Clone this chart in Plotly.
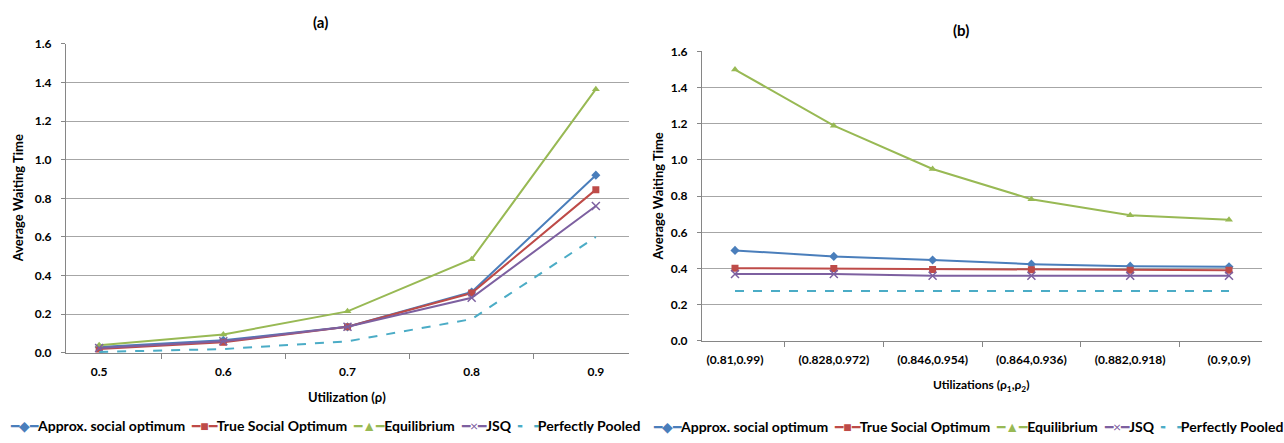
import plotly.graph_objects as go

# ---- data ----
util_a = ["0.5", "0.6", "0.7", "0.8", "0.9"]
approx_a = [0.03, 0.065, 0.135, 0.315, 0.92]
true_a = [0.02, 0.055, 0.135, 0.31, 0.845]
equil_a = [0.04, 0.095, 0.215, 0.485, 1.365]
jsq_a = [0.025, 0.06, 0.135, 0.285, 0.76]
pooled_a = [0.005, 0.02, 0.06, 0.175, 0.6]

util_b = ["(0.81,0.99)", "(0.828,0.972)", "(0.846,0.954)", "(0.864,0.936)", "(0.882,0.918)", "(0.9,0.9)"]
approx_b = [0.50, 0.467, 0.447, 0.424, 0.413, 0.41]
true_b = [0.402, 0.40, 0.395, 0.393, 0.39, 0.39]
equil_b = [1.50, 1.19, 0.95, 0.783, 0.695, 0.67]
jsq_b = [0.37, 0.37, 0.36, 0.36, 0.36, 0.36]
pooled_b = [0.275, 0.275, 0.275, 0.275, 0.275, 0.275]

series_names = ["Approx. social optimum", "True Social Optimum", "Equilibrium", "JSQ", "Perfectly Pooled"]
colors = ["#4A7EBB", "#BE4B48", "#98B954", "#7D60A0", "#4BACC6"]
symbols = ["diamond", "square", "triangle-up", "x-thin", None]
legend_glyphs = ["━◆━", "━■━", "━▲━", "━×━", "╸ ╺"]

FONT = "Lato"
fig = go.Figure()

def add_series(xs, ys_list, xa, ya):
    for name, ys, col, sym in zip(series_names, ys_list, colors, symbols):
        if sym is None:
            fig.add_trace(go.Scatter(x=xs, y=ys, name=name, mode="lines",
                                     line=dict(color=col, width=2, dash="dash"),
                                     xaxis=xa, yaxis=ya, showlegend=False))
        else:
            mk = dict(symbol=sym, size=7, color=col)
            if sym == "x-thin":
                mk["line"] = dict(color=col, width=1.5)
                mk["size"] = 8
            fig.add_trace(go.Scatter(x=xs, y=ys, name=name, mode="lines+markers",
                                     line=dict(color=col, width=2), marker=mk,
                                     xaxis=xa, yaxis=ya, showlegend=False))

add_series(util_a, [approx_a, true_a, equil_a, jsq_a, pooled_a], "x", "y")
add_series(util_b, [approx_b, true_b, equil_b, jsq_b, pooled_b], "x2", "y2")

grid = "#A6A6A6"
tickfont = dict(family=FONT, size=12, color="#000", weight="bold")
axis_common_x = dict(type="category", tickson="boundaries", ticks="outside", ticklen=5,
                     tickcolor="#868686", showline=True, linecolor="#868686", showgrid=False,
                     tickfont=tickfont, zeroline=False, ticklabelstandoff=8)
axis_common_y = dict(range=[0, 1.6], dtick=0.2, tickformat=".1f", showgrid=True, gridcolor=grid,
                     ticks="outside", ticklen=4, tickcolor="#868686", showline=True,
                     linecolor="#868686", zeroline=False, ticklabelstandoff=7,
                     tickfont=tickfont)

fig.update_layout(
    width=1284, height=443,
    margin=dict(l=0, r=0, t=0, b=0),
    paper_bgcolor="white", plot_bgcolor="white",
    font=dict(family=FONT, color="#000"),
    xaxis=dict(domain=[66/1284, 629/1284], anchor="y", **axis_common_x),
    yaxis=dict(domain=[(443-357)/443, (443-37)/443], anchor="x", **axis_common_y),
    xaxis2=dict(domain=[702/1284, 1262/1284], anchor="y2", **axis_common_x),
    yaxis2=dict(domain=[(443-344.5)/443, (443-45)/443], anchor="x2", **axis_common_y),
    showlegend=False,
)

# legend rows as real text (one per panel)
parts = []
for g, col, name in zip(legend_glyphs, colors, series_names):
    parts.append(f"<span style='color:{col}'>{g}</span><b>{name}</b>")
legend_text = "&nbsp; ".join(parts)
for lx, ly in [(8, 432), (651, 433)]:
    fig.add_annotation(text=legend_text, x=lx/1284, y=(443-ly)/443, xref="paper", yref="paper",
                       showarrow=False, xanchor="left", yanchor="middle",
                       font=dict(family=FONT, size=14, color="#000"))

ann = [
    dict(text="<b>(a)</b>", x=320/1284, y=(443-15)/443, size=15),
    dict(text="<b>(b)</b>", x=961/1284, y=(443-23)/443, size=15),
    dict(text="<b>Utilization (ρ)</b>", x=347/1284, y=(443-403)/443, size=13),
    dict(text="<b>Utilizations (ρ<sub>1</sub>,ρ<sub>2</sub>)</b>", x=981/1284, y=(443-391)/443, size=12),
]
for a in ann:
    fig.add_annotation(text=a["text"], x=a["x"], y=a["y"], xref="paper", yref="paper",
                       showarrow=False, xanchor="center", yanchor="middle",
                       font=dict(family=FONT, size=a["size"], color="#000"))
for xpos, ypos in [(18, 197), (658, 195)]:
    fig.add_annotation(text="<b>Average Waiting Time</b>", x=xpos/1284, y=(443-ypos)/443,
                       xref="paper", yref="paper", showarrow=False, textangle=-90,
                       xanchor="center", yanchor="middle",
                       font=dict(family=FONT, size=13, color="#000"))

fig.write_html("out.html")
